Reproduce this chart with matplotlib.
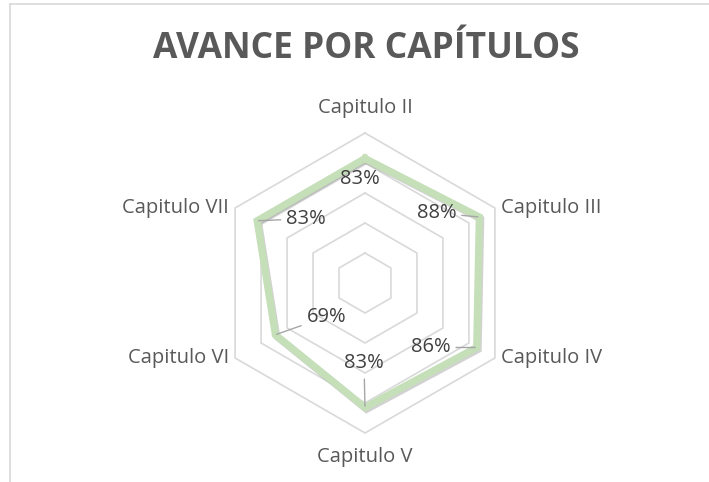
import numpy as np
import matplotlib
matplotlib.use("Agg")
import matplotlib.pyplot as plt
from matplotlib.lines import Line2D
import matplotlib.transforms as mtransforms

plt.rcParams['font.family'] = ['Open Sans', 'DejaVu Sans']

categories = ["Capitulo II", "Capitulo III", "Capitulo IV", "Capitulo V", "Capitulo VI", "Capitulo VII"]
values = [83, 88, 86, 83, 69, 83]
label_texts = ["83%", "88%", "86%", "83%", "69%", "83%"]
grid_levels = [20, 40, 60, 80, 100]
title = "AVANCE POR CAPÍTULOS"

W, H = 709, 482
fig = plt.figure(figsize=(W / 100, H / 100), dpi=100)

cx, cy = 365, 283
L = 130
side = 2 * L * 1.5
ax = fig.add_axes([(cx - side / 2) / W, (H - cy - side / 2) / H, side / W, side / H])
ax.set_xlim(-L, L)
ax.set_ylim(-L, L)
ax.set_aspect('equal')
ax.axis('off')

n = len(categories)
ang = np.arange(n) * 2 * np.pi / n


def xy(r):
    r = np.asarray(r, dtype=float)
    return r * np.sin(ang), r * np.cos(ang)


grid_c = "#d9d9d9"
for lv in grid_levels:
    gx, gy = xy(np.full(n, lv))
    ax.plot(np.append(gx, gx[0]), np.append(gy, gy[0]), color=grid_c, lw=1.2, zorder=1)

px, py = xy(values)
sx = np.append(px, px[0])
sy = np.append(py, py[0])
shadow = mtransforms.offset_copy(ax.transData, fig=fig, x=1.5, y=-2.0, units='dots')
ax.plot(sx, sy, color="#7f7f7f", alpha=0.35, lw=5.0, transform=shadow, zorder=2,
        solid_joinstyle='miter')
ax.plot(sx, sy, color="#c5dfb9", lw=5.2, zorder=3, solid_joinstyle='miter')

# data labels (offsets in pixels)
offsets = [(-5, -21), (-43, 4), (-46, 0), (-1, 44), (51, 18), (49, 2)]
for i in range(n):
    arrow = None if i == 0 else dict(arrowstyle='-', color="#a6a6a6", lw=1.0, shrinkA=2, shrinkB=1)
    ax.annotate(label_texts[i], (px[i], py[i]), xytext=offsets[i], textcoords='offset pixels',
                ha='center', va='center', fontsize=14.5, color="#404040", zorder=5,
                arrowprops=arrow)

# category labels
text_c = "#595959"
ox, oy = xy(np.full(n, 100))
cat_pos = [(0, 117, 'center'), (ox[1] + 4, oy[1], 'left'), (ox[2] + 4, oy[2], 'left'),
           (0, -116, 'center'), (ox[4] - 4, oy[4], 'right'), (ox[5] - 4, oy[5], 'right')]
for (x, y, ha), c in zip(cat_pos, categories):
    ax.text(x, y, c, ha=ha, va='center', fontsize=14.5, color=text_c)

fig.text(366 / W, 1 - 49 / H, title, ha='center', va='center', fontsize=25.5,
         fontweight='bold', color=text_c)

# border
fig.add_artist(Line2D([10 / W, 10 / W], [0, 1 - 3.5 / H], color=grid_c, lw=1.2,
                      transform=fig.transFigure))
fig.add_artist(Line2D([10 / W, 1], [1 - 3.5 / H, 1 - 3.5 / H], color=grid_c, lw=1.2,
                      transform=fig.transFigure))

fig.savefig("out.png", dpi=100, facecolor='white')
